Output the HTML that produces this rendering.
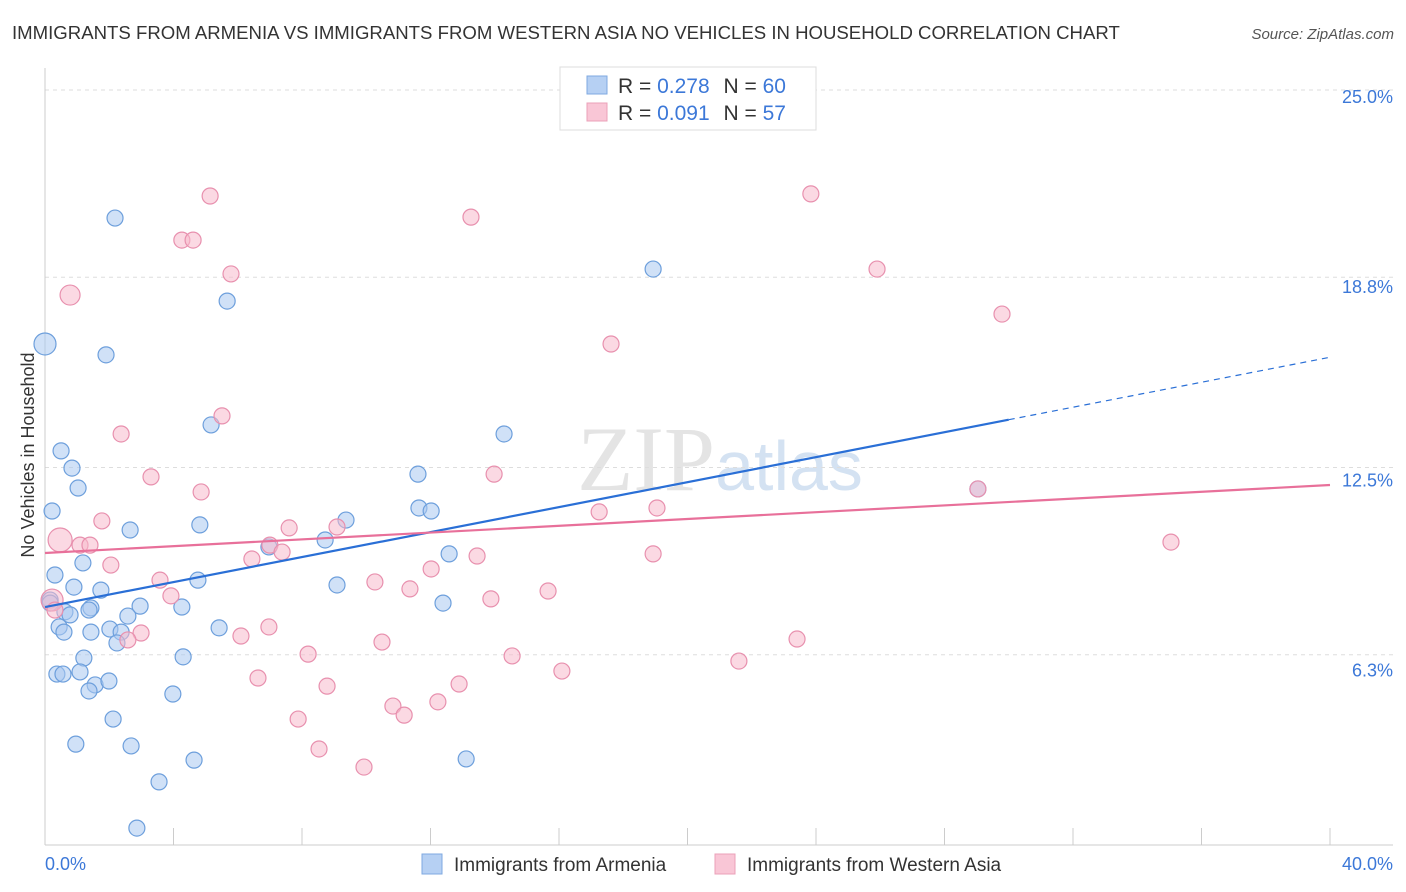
<!DOCTYPE html>
<html><head><meta charset="utf-8"><style>
body{margin:0;background:#fff;font-family:"Liberation Sans",sans-serif;}
svg{display:block}
</style></head><body>
<svg id="chart" width="1406" height="892">
<text x="12" y="39" font-size="18.6" fill="#333">IMMIGRANTS FROM ARMENIA VS IMMIGRANTS FROM WESTERN ASIA NO VEHICLES IN HOUSEHOLD CORRELATION CHART</text>
<text x="1394" y="39" font-size="15" fill="#555" font-style="italic" text-anchor="end">Source: ZipAtlas.com</text>
<text x="720" y="490" font-size="92" fill="#e4e4e4" text-anchor="middle" font-family="Liberation Serif, serif">ZIP<tspan fill="#d4e2f2" font-family="Liberation Sans, sans-serif" font-size="70">atlas</tspan></text>
<text x="34" y="455" font-size="18" fill="#333" text-anchor="middle" transform="rotate(-90 34 455)">No Vehicles in Household</text>
<g id="grid"></g><g id="marks"></g>
<g>
<rect x="560" y="67" width="256" height="63" fill="#fff" stroke="#ddd"/>
<rect x="587" y="76" width="20" height="18" fill="#b6d0f3" stroke="#7fa9e0"/>
<rect x="587" y="103" width="20" height="18" fill="#f9c6d6" stroke="#eba0b8"/>
<text x="618" y="93" font-size="21" fill="#333">R = <tspan fill="#3c78d8">0.278</tspan>   <tspan dx="8">N = </tspan><tspan fill="#3c78d8">60</tspan></text>
<text x="618" y="120" font-size="21" fill="#333">R = <tspan fill="#3c78d8">0.091</tspan>   <tspan dx="8">N = </tspan><tspan fill="#3c78d8"> 57</tspan></text>
</g>
<g>
<rect x="422" y="854" width="20" height="20" fill="#b6d0f3" stroke="#7fa9e0"/>
<text x="454" y="871" font-size="19" fill="#333">Immigrants from Armenia</text>
<rect x="715" y="854" width="20" height="20" fill="#f9c6d6" stroke="#eba0b8"/>
<text x="747" y="871" font-size="19" fill="#333">Immigrants from Western Asia</text>
</g>
<text x="45" y="870" font-size="18" fill="#3c78d8">0.0%</text>
<text x="1393" y="870" font-size="18" fill="#3c78d8" text-anchor="end">40.0%</text>
</svg>
<script>
const yTicks=[25.0,18.8,12.5,6.3];
const yTickLabels=["25.0%","18.8%","12.5%","6.3%"];
const blueX=[0,2.18,1.90,5.67,18.93,5.17,0.50,0.84,1.03,0.22,2.65,4.82,6.97,8.72,9.37,11.61,11.64,12.02,14.29,12.58,0.31,1.18,0.90,1.74,4.76,9.09,0.16,0.62,0.78,1.43,0.16,2.96,2.58,4.26,12.39,0.44,0.59,1.43,2.02,2.37,2.24,5.42,1.21,4.30,0.37,0.56,1.09,1.56,1.99,1.37,3.98,2.12,0.96,2.68,4.64,13.11,3.55,2.86,29.04,1.37];
const blueY=[16.59,20.76,16.23,18.01,19.07,13.91,13.05,12.48,11.82,11.06,10.43,10.60,9.87,10.10,10.76,12.28,11.16,11.06,13.61,9.64,8.94,9.34,8.54,8.44,8.77,8.61,8.11,7.72,7.62,7.85,8.01,7.91,7.58,7.88,8.01,7.22,7.05,7.05,7.15,7.05,6.69,7.19,6.19,6.23,5.66,5.66,5.73,5.30,5.43,5.10,5.00,4.17,3.34,3.28,2.81,2.85,2.09,0.56,11.79,7.78];
const pinkX=[5.14,4.26,4.61,5.79,0.78,13.26,23.84,25.90,29.79,17.62,5.51,2.37,3.30,4.86,13.98,1.77,7.60,9.09,19.05,17.25,0.47,1.09,1.40,7.00,7.38,6.44,13.45,18.93,35.05,2.05,12.02,3.58,10.27,3.92,11.36,13.88,15.66,0.22,0.31,2.99,2.58,6.10,6.97,10.49,23.41,8.19,14.54,21.60,16.09,6.63,8.78,12.89,7.88,10.83,11.18,12.23,8.53,9.93,29.04];
const pinkY=[21.49,20.03,20.03,18.91,18.21,20.79,21.56,19.07,17.58,16.59,14.21,13.61,12.19,11.69,12.28,10.73,10.50,10.53,11.16,11.03,10.10,9.93,9.93,9.93,9.70,9.47,9.57,9.64,10.03,9.27,9.14,8.77,8.71,8.25,8.48,8.15,8.41,8.11,7.78,7.02,6.79,6.92,7.22,6.72,6.82,6.32,6.26,6.09,5.76,5.53,5.26,5.33,4.17,4.60,4.30,4.74,3.18,2.58,11.79];
const blueTrend=[7.88,16.15];
const pinkTrend=[9.67,11.92];
const xTicks=[0,4,8,12,16,20,24,28,32,36,40];
const X=v=>45+v*32.125, Y=v=>845-v*30.2;
const NS="http://www.w3.org/2000/svg";
const grid=document.getElementById('grid'), marks=document.getElementById('marks');
function mk(tag,attrs,parent){const e=document.createElementNS(NS,tag);for(const k in attrs)e.setAttribute(k,attrs[k]);parent.appendChild(e);return e;}
yTicks.forEach((t,i)=>{
 const l=mk('line',{x1:45,x2:1393,y1:Y(t),y2:Y(t),stroke:'#ddd','stroke-dasharray':'4,4'},grid);
 
 
 const tx=mk('text',{x:1393,y:Y(t)+22-(t-6.3)*0.48,'font-size':18,fill:'#3c78d8','text-anchor':'end'},grid);
 tx.textContent=yTickLabels[i];
 
 
});
const ax=mk('line',{x1:45,x2:45,y1:68,y2:845,stroke:'#ccc'},grid);


const bx=mk('line',{x1:45,x2:1393,y1:845,y2:845,stroke:'#ccc'},grid);


xTicks.forEach(t=>{
 const l=mk('line',{x1:X(t),x2:X(t),y1:828,y2:845,stroke:'#ccc'},grid);
 
 
});
function pts(xs,ys,fill,stroke,name,big){
 xs.forEach((x,i)=>{
  const c=mk('circle',{cx:X(x),cy:Y(ys[i]),r:big[i]||8,fill:fill,'fill-opacity':0.55,stroke:stroke,'stroke-width':1.2},marks);
  
  
 });
}
pts(blueX,blueY,'#a9c8f0','#6d9fdc','armenia-point',{0:11});
pts(pinkX,pinkY,'#f7b9cc','#e890ae','western-asia-point',{4:10,20:12,37:11});
const bx2=30.0, yb=blueTrend[0]+(blueTrend[1]-blueTrend[0])*bx2/40;
let l1=mk('line',{x1:X(0),y1:Y(blueTrend[0]),x2:X(bx2),y2:Y(yb),stroke:'#2a6fd6','stroke-width':2.2},marks);


let l2=mk('line',{x1:X(bx2),y1:Y(yb),x2:X(40),y2:Y(blueTrend[1]),stroke:'#2a6fd6','stroke-width':1.2,'stroke-dasharray':'6,5'},marks);


let l3=mk('line',{x1:X(0),y1:Y(pinkTrend[0]),x2:X(40),y2:Y(pinkTrend[1]),stroke:'#e8709a','stroke-width':2.2},marks);


</script>
</body></html>
